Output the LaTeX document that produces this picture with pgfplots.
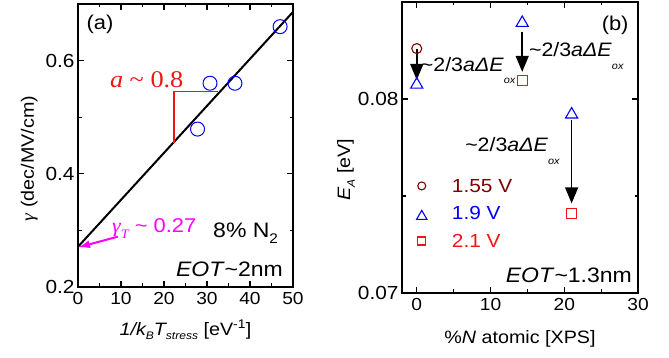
\documentclass[border=0pt]{standalone}
\usepackage{fontspec}
\setmainfont{Liberation Sans}[FakeStretch=1.1]
\newfontfamily\serif{Liberation Serif}[FakeStretch=1.1]
\usepackage{pgfplots}
\pgfplotsset{compat=1.18}
\usetikzlibrary{arrows.meta}
\definecolor{dred}{RGB}{128,0,0}
\definecolor{myred}{RGB}{240,20,20}
\definecolor{mymag}{RGB}{255,0,255}
\newcommand{\sub}[1]{\raisebox{-0.5ex}{\fontsize{11}{11}\selectfont #1}}
\newcommand{\tl}{\textasciitilde}
\newcommand{\lab}{\tl 2/3\textit{a}\textit{Δ}\textit{E}\raisebox{-1.2ex}{\fontsize{10}{10}\selectfont\itshape ox}}
\begin{document}
\begin{tikzpicture}
\useasboundingbox (0,0) rectangle (669bp,358bp);
\pgfplotsset{
 every axis/.append style={scale only axis, axis line style={line width=1.5bp}, tick style={line width=1.2bp, black}, major tick length=6bp, minor tick length=3.5bp, tick align=inside,
 xticklabel style={font=\fontsize{17.5}{19}\selectfont, yshift=-2bp},
 yticklabel style={font=\fontsize{19}{21}\selectfont},
 /pgf/number format/assume math mode=true,
 label style={font=\fontsize{18}{21}\selectfont}, clip=false},
}
% ---------------- (a)
\begin{axis}[at={(78bp,71bp)}, anchor=south west, width=215bp, height=283bp,
 xmin=0, xmax=50, ymin=0.2, ymax=0.7,
 xtick={0,10,20,30,40,50}, minor x tick num=1,
 ytick={0.2,0.4,0.6}, minor y tick num=1,
 yticklabel style={/pgf/number format/fixed, /pgf/number format/fixed zerofill, /pgf/number format/precision=1},
 xlabel={\itshape 1/k\sub{B}T\sub{stress}\upshape{} [eV\textsuperscript{-1}]},
 ylabel={{\serif\itshape γ} (dec/MV/cm)},
 xlabel style={at={(axis description cs:0.5,-0.17)}, anchor=base},
 ylabel style={at={(axis description cs:-0.205,0.454)}, anchor=base},
]
\addplot[black, line width=2bp] coordinates {(0,0.271) (50,0.686)};
\addplot[only marks, mark=o, blue, mark size=7bp, mark options={line width=1bp}] coordinates {(27.8,0.479) (30.7,0.56) (36.5,0.56) (47,0.66)};
\addplot[myred, line width=1.3bp] coordinates {(22.3,0.455) (22.3,0.546) (32.6,0.546)};
\addplot[mymag, line width=2bp, -{Latex[length=12bp,width=8bp]}] coordinates {(9.3,0.289) (0,0.27)};
\node[font=\fontsize{20}{22}\selectfont] at (axis cs:5.1,0.664) {(a)};
\node[anchor=base west, inner sep=0pt, myred, font=\serif\fontsize{24}{25}\selectfont] at (axis cs:7.4,0.552) {\textit{a} \tl{} 0.8};
\node[anchor=base west, inner sep=0pt, mymag, font=\fontsize{20}{22}\selectfont] at (axis cs:7.9,0.2956) {{\serif\itshape γ}\raisebox{-0.5ex}{\fontsize{13}{13}\selectfont\serif\itshape T} \tl{} 0.27};
\node[anchor=base west, inner sep=0pt, font=\fontsize{21}{22}\selectfont] at (axis cs:31.4,0.287) {8\% N\raisebox{-0.5ex}{\fontsize{14}{14}\selectfont 2}};
\node[anchor=base east, inner sep=0pt, font=\fontsize{21}{22}\selectfont] at (axis cs:47.7,0.218) {\textit{EOT}\tl 2nm};
\end{axis}
% ---------------- (b)
\begin{axis}[at={(402bp,65bp)}, anchor=south west, width=236bp, height=291bp,
 xmin=-2, xmax=30, ymin=0.07, ymax=0.085,
 xtick={0,10,20,30}, minor x tick num=1,
 ytick={0.07,0.08}, minor ytick={0.075},
 scaled y ticks=false,
 yticklabel style={/pgf/number format/fixed, /pgf/number format/fixed zerofill, /pgf/number format/precision=2},
 xlabel={\%\textit{N} atomic [XPS]},
 ylabel={\textit{E}\sub{\itshape A} [eV]},
 xlabel style={at={(axis description cs:0.5,-0.175)}, anchor=base},
 ylabel style={at={(axis description cs:-0.22,0.424)}, anchor=base},
]
\addplot[black, line width=1.5bp, -{Triangle[length=16bp,width=13bp]}] coordinates {(0,0.0826) (0,0.08098)};
\addplot[black, line width=1.5bp, -{Triangle[length=16bp,width=13bp]}] coordinates {(14.3,0.08347) (14.3,0.0814)};
\addplot[black, line width=1.5bp, -{Triangle[length=16bp,width=13bp]}] coordinates {(21,0.07892) (21,0.07462)};
\addplot[only marks, mark=o, dred, mark size=5bp, mark options={line width=1.1bp}] coordinates {(0,0.0826)};
\addplot[only marks, mark=triangle, blue, mark size=7bp, mark options={line width=1.1bp}] coordinates {(0,0.08074) (14.3,0.08392) (21,0.0792)};
\addplot[only marks, mark=square, myred, mark size=5bp, mark options={line width=1.2bp}] coordinates {(14.3,0.08094) (21,0.07411)};
% legend markers
\addplot[only marks, mark=o, dred, mark size=4bp, mark options={line width=1.1bp}] coordinates {(0.68,0.07552)};
\addplot[only marks, mark=triangle, blue, mark size=6bp, mark options={line width=1.1bp}] coordinates {(0.68,0.07395)};
\addplot[only marks, mark=square, myred, mark size=4bp, mark options={line width=1.2bp}] coordinates {(0.68,0.07268)};
\node[anchor=west, inner sep=0pt, dred, font=\fontsize{19}{22}\selectfont] at (axis cs:4.75,0.07552) {1.55 V};
\node[anchor=west, inner sep=0pt, blue, font=\fontsize{19}{22}\selectfont] at (axis cs:4.75,0.0741) {1.9 V};
\node[anchor=west, inner sep=0pt, myred, font=\fontsize{19}{22}\selectfont] at (axis cs:4.75,0.07268) {2.1 V};
\node[anchor=base west, font=\fontsize{19.5}{22}\selectfont, inner sep=0pt] at (axis cs:0.54,0.08141) {\lab};
\node[anchor=base west, font=\fontsize{19.5}{22}\selectfont, inner sep=0pt] at (axis cs:15.2,0.08218) {\lab};
\node[anchor=base west, font=\fontsize{19.5}{22}\selectfont, inner sep=0pt] at (axis cs:6.55,0.07728) {\lab};
\node[anchor=base east, inner sep=0pt, font=\fontsize{21}{22}\selectfont] at (axis cs:29.2,0.07052) {\textit{EOT}\tl 1.3nm};
\node[font=\fontsize{20}{22}\selectfont] at (axis cs:26.9,0.08381) {(b)};
\end{axis}
\end{tikzpicture}
\end{document}
